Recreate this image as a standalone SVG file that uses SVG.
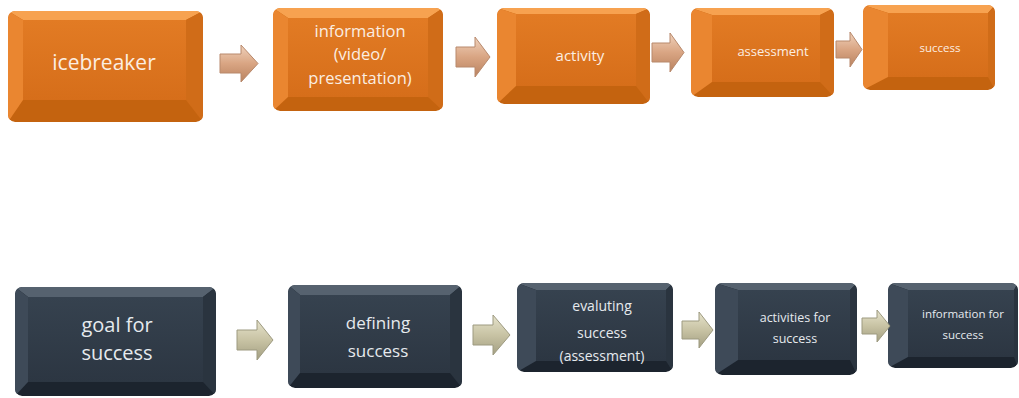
<svg xmlns="http://www.w3.org/2000/svg" width="1019" height="398" viewBox="0 0 1019 398">
<defs>
<style>
.ob{fill:#c4630f}
.ot{fill:#f7a250}
.ol{fill:#ea8630}
.or{fill:#d06c18}
.of{fill:url(#gof)}
.db{fill:#1c242e}
.dt{fill:#56626f}
.dl{fill:#3e4a58}
.dr{fill:#2a343f}
.df{fill:url(#gdf)}
.ttxt{fill:#fbeee2;font-family:"Open Sans","DejaVu Sans",sans-serif;text-anchor:middle}
.btxt{fill:#e6eaee;font-family:"Open Sans","DejaVu Sans",sans-serif;text-anchor:middle}
.ta{fill:url(#gta);stroke:#b8896c;stroke-width:1}
.ba{fill:url(#gba);stroke:#9d9a80;stroke-width:1}
</style>
<linearGradient id="gof" x1="0" y1="0" x2="0" y2="1"><stop offset="0" stop-color="#e27b24"/><stop offset="1" stop-color="#d66e1a"/></linearGradient>
<linearGradient id="gdf" x1="0" y1="0" x2="0" y2="1"><stop offset="0" stop-color="#36424f"/><stop offset="1" stop-color="#2c3642"/></linearGradient>
<linearGradient id="gta" x1="0" y1="0" x2="0" y2="1"><stop offset="0" stop-color="#f0d2bc"/><stop offset="0.5" stop-color="#d9a583"/><stop offset="1" stop-color="#b9825f"/></linearGradient>
<linearGradient id="gba" x1="0" y1="0" x2="0" y2="1"><stop offset="0" stop-color="#e6e3cc"/><stop offset="0.5" stop-color="#c8c3a4"/><stop offset="1" stop-color="#a39f82"/></linearGradient>
<clipPath id="c1"><rect x="8" y="11" width="195" height="111" rx="7"/></clipPath>
<clipPath id="c2"><rect x="273" y="8" width="170" height="103" rx="7"/></clipPath>
<clipPath id="c3"><rect x="497" y="8" width="153" height="96" rx="7"/></clipPath>
<clipPath id="c4"><rect x="691" y="8" width="143" height="89" rx="7"/></clipPath>
<clipPath id="c5"><rect x="863" y="5" width="132" height="85" rx="7"/></clipPath>
<clipPath id="c6"><rect x="15" y="287" width="201" height="109" rx="7"/></clipPath>
<clipPath id="c7"><rect x="288" y="285" width="174" height="103" rx="7"/></clipPath>
<clipPath id="c8"><rect x="517" y="283" width="156" height="89" rx="7"/></clipPath>
<clipPath id="c9"><rect x="715" y="283" width="142" height="92" rx="7"/></clipPath>
<clipPath id="c10"><rect x="888" y="283" width="130" height="85" rx="7"/></clipPath>
</defs>

<g id="node-icebreaker" clip-path="url(#c1)">
<rect class="ob" x="8" y="11" width="195" height="111" rx="7"/>
<polygon class="ot" points="8,11 203,11 186,20 23,20"/>
<polygon class="ol" points="8,11 23,20 23,100 8,122"/>
<polygon class="or" points="203,11 203,122 186,100 186,20"/>
<rect class="of" x="23" y="20" width="163" height="80"/>
<text class="ttxt" x="104" y="70" font-size="21">icebreaker</text>
</g>

<g id="node-information" clip-path="url(#c2)">
<rect class="ob" x="273" y="8" width="170" height="103" rx="7"/>
<polygon class="ot" points="273,8 443,8 428,18 288,18"/>
<polygon class="ol" points="273,8 288,18 288,97 273,111"/>
<polygon class="or" points="443,8 443,111 428,97 428,18"/>
<rect class="of" x="288" y="18" width="140" height="79"/>
<text class="ttxt" font-size="16.5"><tspan x="360" y="37">information</tspan><tspan x="360" y="60">(video/</tspan><tspan x="360" y="84">presentation)</tspan></text>
</g>

<g id="node-activity" clip-path="url(#c3)">
<rect class="ob" x="497" y="8" width="153" height="96" rx="7"/>
<polygon class="ot" points="497,8 650,8 636,14 516,14"/>
<polygon class="ol" points="497,8 516,14 516,86 497,104"/>
<polygon class="or" points="650,8 650,104 636,86 636,14"/>
<rect class="of" x="516" y="14" width="120" height="72"/>
<text class="ttxt" x="580" y="61" font-size="15">activity</text>
</g>

<g id="node-assessment" clip-path="url(#c4)">
<rect class="ob" x="691" y="8" width="143" height="89" rx="7"/>
<polygon class="ot" points="691,8 834,8 820,15 712,15"/>
<polygon class="ol" points="691,8 712,15 712,82 691,97"/>
<polygon class="or" points="834,8 834,97 820,82 820,15"/>
<rect class="of" x="712" y="15" width="108" height="67"/>
<text class="ttxt" x="773" y="56" font-size="13">assessment</text>
</g>

<g id="node-success" clip-path="url(#c5)">
<rect class="ob" x="863" y="5" width="132" height="85" rx="7"/>
<polygon class="ot" points="863,5 995,5 988,13 888,13"/>
<polygon class="ol" points="863,5 888,13 888,77 863,90"/>
<polygon class="or" points="995,5 995,90 988,77 988,13"/>
<rect class="of" x="888" y="13" width="100" height="64"/>
<text class="ttxt" x="940" y="52" font-size="11.5">success</text>
</g>

<g id="node-goal" clip-path="url(#c6)">
<rect class="db" x="15" y="287" width="201" height="109" rx="7"/>
<polygon class="dt" points="15,287 216,287 203,297 28,297"/>
<polygon class="dl" points="15,287 28,297 28,382 15,396"/>
<polygon class="dr" points="216,287 216,396 203,382 203,297"/>
<rect class="df" x="28" y="297" width="175" height="85"/>
<text class="btxt" font-size="20"><tspan x="117" y="332">goal for</tspan><tspan x="117" y="360">success</tspan></text>
</g>

<g id="node-defining" clip-path="url(#c7)">
<rect class="db" x="288" y="285" width="174" height="103" rx="7"/>
<polygon class="dt" points="288,285 462,285 450,295 300,295"/>
<polygon class="dl" points="288,285 300,295 300,373 288,388"/>
<polygon class="dr" points="462,285 462,388 450,373 450,295"/>
<rect class="df" x="300" y="295" width="150" height="78"/>
<text class="btxt" font-size="17"><tspan x="378" y="329">defining</tspan><tspan x="378" y="357">success</tspan></text>
</g>

<g id="node-evaluting" clip-path="url(#c8)">
<rect class="db" x="517" y="283" width="156" height="89" rx="7"/>
<polygon class="dt" points="517,283 673,283 666,290 536,290"/>
<polygon class="dl" points="517,283 536,290 536,361 517,372"/>
<polygon class="dr" points="673,283 673,372 666,361 666,290"/>
<rect class="df" x="536" y="290" width="130" height="71"/>
<text class="btxt" font-size="14"><tspan x="602" y="311">evaluting</tspan><tspan x="602" y="338">success</tspan><tspan x="602" y="361">(assessment)</tspan></text>
</g>

<g id="node-activities" clip-path="url(#c9)">
<rect class="db" x="715" y="283" width="142" height="92" rx="7"/>
<polygon class="dt" points="715,283 857,283 850,290 738,290"/>
<polygon class="dl" points="715,283 738,290 738,360 715,375"/>
<polygon class="dr" points="857,283 857,375 850,360 850,290"/>
<rect class="df" x="738" y="290" width="112" height="70"/>
<text class="btxt" font-size="12.5"><tspan x="795" y="322">activities for</tspan><tspan x="795" y="343">success</tspan></text>
</g>

<g id="node-information-for" clip-path="url(#c10)">
<rect class="db" x="888" y="283" width="130" height="85" rx="7"/>
<polygon class="dt" points="888,283 1018,283 1014,290 908,290"/>
<polygon class="dl" points="888,283 908,290 908,357 888,368"/>
<polygon class="dr" points="1018,283 1018,368 1014,357 1014,290"/>
<rect class="df" x="908" y="290" width="106" height="67"/>
<text class="btxt" font-size="11.5"><tspan x="963" y="318">information for</tspan><tspan x="963" y="339">success</tspan></text>
</g>

<g id="connectors">
<polygon class="ta" points="220,54 241,54 241,45 258,63.5 241,82 241,73 220,73"/>
<polygon class="ta" points="456,47 475,47 475,37 490,57 475,77 475,67 456,67"/>
<polygon class="ta" points="652,43 670,43 670,33 684,52.5 670,72 670,62 652,62"/>
<polygon class="ta" points="836,41 850,41 850,32 862,49.5 850,67 850,58 836,58"/>
<polygon class="ba" points="237,330 257,330 257,320 273,340 257,360 257,350 237,350"/>
<polygon class="ba" points="473,325 493,325 493,315 510,335 493,355 493,345 473,345"/>
<polygon class="ba" points="682,321 699,321 699,312 713,330 699,348 699,339 682,339"/>
<polygon class="ba" points="862,318 877,318 877,310 890,326 877,342 877,334 862,334"/>
</g>
</svg>
